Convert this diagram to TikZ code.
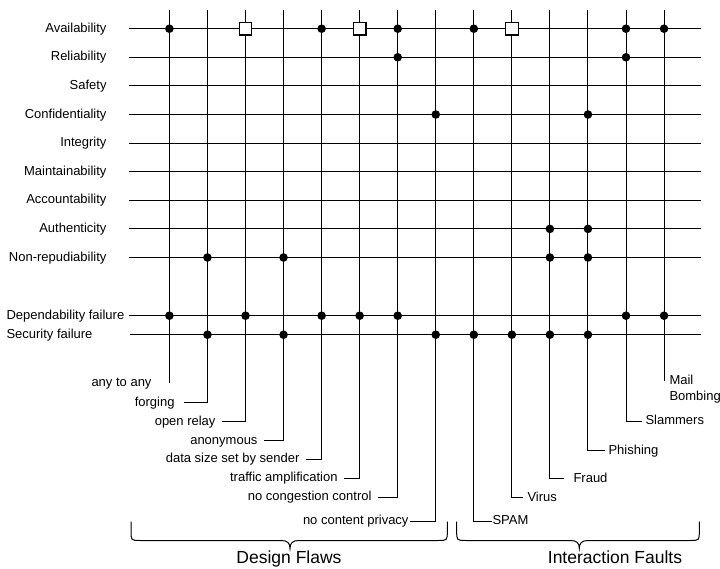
\documentclass[tikz,border=0pt]{standalone}
\usepackage{fontspec}
\setmainfont{Liberation Sans}
\begin{document}
\begin{tikzpicture}[x=1pt,y=-1pt,line width=1pt,
  lab/.style={inner sep=0pt,text height=0.72em,text depth=0pt,font=\fontsize{13}{15}\selectfont},
  big/.style={inner sep=0pt,text height=0.72em,text depth=0pt,font=\fontsize{17.5}{20}\selectfont},
  dotm/.style={circle,fill=black,draw=none,inner sep=0pt,minimum size=8.6pt},
  sqm/.style={rectangle,draw=black,fill=white,inner sep=0pt,minimum size=12.6pt,line width=1.3pt},
  bracel/.style={line width=1pt}]
\useasboundingbox (0,0) rectangle (720,569);
% property rows
\foreach \t [count=\k] in {Availability,Reliability,Safety,Confidentiality,Integrity,Maintainability,Accountability,Authenticity,Non-repudiability}{
  \pgfmathsetmacro{\yy}{28.7+28.6*(\k-1)}
  \node[lab,anchor=east] (L\k) at (107,\yy) {\t};
  \coordinate (A\k) at (129,\yy);
  \coordinate (B\k) at (701,\yy);
  \draw (A\k) -- (B\k);
}
\node[lab,anchor=west] (L10) at (6,315.7) {Dependability failure};
\coordinate (A10) at (129,315.7);
\coordinate (B10) at (701,315.7);
\draw (A10) -- (B10);
\node[lab,anchor=west] (L11) at (6,334.7) {Security failure};
\coordinate (A11) at (130,334.7);
\coordinate (B11) at (701,334.7);
\draw (A11) -- (B11);
% columns
\foreach \i in {0,...,13}{
  \coordinate (T\i) at ({169.4+38.05*\i},10);
}
% column 0: any to any
\coordinate (E0) at ({169.4},383.3);
\node[lab,anchor=east] (N0) at (152,383.3) {any to any};
\draw (T0) -- (E0);
% left labels
\foreach \i/\yb/\hx/\lx/\t in {1/402.7/184/175/forging,2/421.7/222/216/open relay,3/440.5/264/258/anonymous,4/459.3/306/300/data size set by sender,5/478.3/344/338/traffic amplification,6/497/378/372/no congestion control,7/521/410/409/no content privacy}{
  \node[lab,anchor=east] (N\i) at (\lx,\yb) {\t};
  \coordinate (H\i) at (\hx,\yb);
  \draw (T\i) |- (H\i);
}
% right labels
\foreach \i/\yb/\hx/\lx/\t in {8/521/491.7/492/SPAM,9/497.7/523/527/Virus,10/478.7/564/573/Fraud,11/450.7/605/608/Phishing,12/421/642/645/Slammers}{
  \node[lab,anchor=west] (N\i) at (\lx,\yb) {\t};
  \coordinate (H\i) at (\hx,\yb);
  \draw (T\i) |- (H\i);
}
% column 13: Mail Bombing
\coordinate (E13) at ({169.4+38.05*13},380.7);
\node[lab,anchor=west] (N13) at (669,380.7) {Mail};
\node[lab,anchor=west] (N13b) at (669,396.7) {Bombing};
\draw (T13) -- (E13);
% markers
\foreach \i/\k in {0/1,4/1,6/1,8/1,12/1,13/1,6/2,12/2,7/4,11/4,10/8,11/8,1/9,3/9,10/9,11/9,0/10,2/10,4/10,5/10,6/10,12/10,13/10,1/11,3/11,7/11,8/11,9/11,10/11,11/11}{
  \node[dotm] (M\i-\k) at (T\i |- A\k) {};
}
\foreach \i in {2,5,9}{
  \node[sqm] (S\i) at (T\i |- A1) {};
}
% braces
\draw[bracel] (131,521.5) -- (131,531) .. controls (131,540.5) .. (140.5,540.5) -- (281,540.5)
  .. controls (287.5,540.5) and (290,543) .. (290,548.5)
  .. controls (290,543) and (292.5,540.5) .. (299,540.5) -- (437.8,540.5)
  .. controls (447.3,540.5) .. (447.3,531) -- (447.3,521.5);
\node[big] (DF) at (289,559.5) {Design Flaws};
\draw[bracel] (456.7,521.5) -- (456.7,531) .. controls (456.7,540.5) .. (466.2,540.5) -- (570.3,540.5)
  .. controls (576.8,540.5) and (579.3,543) .. (579.3,548.5)
  .. controls (579.3,543) and (581.8,540.5) .. (588.3,540.5) -- (689.8,540.5)
  .. controls (699.3,540.5) .. (699.3,531) -- (699.3,521.5);
\node[big] (IF) at (615,559.5) {Interaction Faults};
\end{tikzpicture}
\end{document}
